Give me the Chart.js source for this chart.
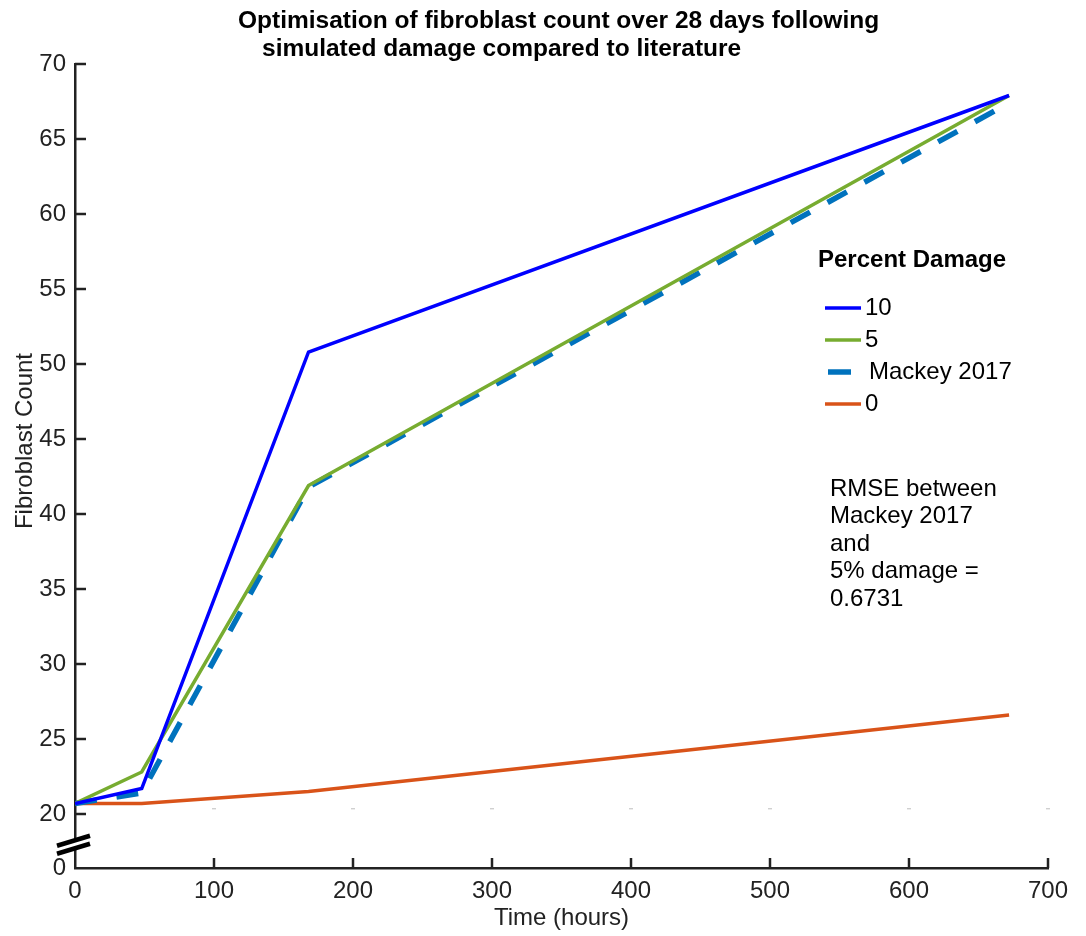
<!DOCTYPE html>
<html>
<head>
<meta charset="utf-8">
<script src="https://cdn.jsdelivr.net/npm/chart.js@4"></script>
<style>
  html, body { margin: 0; padding: 0; background: #fff; }
</style>
</head>
<body>
<canvas id="myChart" width="1086" height="936"></canvas>
<script>
// data
const hours = [0, 48, 168, 672];
const damage10 = [20.7, 21.7, 50.8, 67.9];
const damage5 = [20.7, 22.8, 41.9, 67.9];
const mackey2017 = [20.7, 21.4, 41.8, 67.4];
const damage0 = [20.7, 20.7, 21.5, 26.6];

const xTicks = [0, 100, 200, 300, 400, 500, 600, 700];
const yTicks = [20, 25, 30, 35, 40, 45, 50, 55, 60, 65, 70];
const yZero = 16.4; // bottom of the broken axis, labelled 0

const titleLines = ['Optimisation of fibroblast count over 28 days following', 'simulated damage compared to literature'];
const legendTitle = 'Percent Damage';
const rmseText = ['RMSE between', 'Mackey 2017', 'and', '5% damage =', '0.6731'];

const FONT = "'Liberation Sans', Arial, Helvetica, sans-serif";
const AXIS = '#222222';

function pts(ys) {
  return hours.map((h, i) => ({ x: h, y: ys[i] }));
}

const decorations = {
  id: 'decorations',
  afterDraw(chart) {
    const ctx = chart.ctx;
    const xs = chart.scales.x, ys = chart.scales.y;
    const area = chart.chartArea;
    ctx.save();

    // faint grey marks just above 20
    ctx.strokeStyle = '#c8c8c8';
    ctx.lineWidth = 1.2;
    xTicks.slice(1).forEach(t => {
      const px = xs.getPixelForValue(t);
      const py = ys.getPixelForValue(20.35);
      ctx.beginPath(); ctx.moveTo(px - 2, py); ctx.lineTo(px + 2, py); ctx.stroke();
    });

    // inward ticks
    ctx.strokeStyle = AXIS;
    ctx.lineWidth = 2.5;
    xTicks.slice(1).forEach(t => {
      const px = xs.getPixelForValue(t);
      ctx.beginPath(); ctx.moveTo(px, area.bottom); ctx.lineTo(px, area.bottom - 10); ctx.stroke();
    });
    yTicks.forEach(t => {
      const py = ys.getPixelForValue(t);
      ctx.beginPath(); ctx.moveTo(area.left, py); ctx.lineTo(area.left + 11, py); ctx.stroke();
    });

    // axis break
    const by = ys.getPixelForValue(yZero + 1.55);
    ctx.fillStyle = '#fff';
    ctx.beginPath();
    ctx.moveTo(area.left - 5, by - 2);
    ctx.lineTo(area.left + 5, by - 5);
    ctx.lineTo(area.left + 5, by + 3);
    ctx.lineTo(area.left - 5, by + 6);
    ctx.closePath(); ctx.fill();
    ctx.strokeStyle = '#000';
    ctx.lineWidth = 4.5;
    [-4, 4].forEach(d => {
      ctx.beginPath();
      ctx.moveTo(area.left - 18, by + d + 5);
      ctx.lineTo(area.left + 15, by + d - 5);
      ctx.stroke();
    });

    // title
    ctx.fillStyle = '#000';
    ctx.font = 'bold 24.5px ' + FONT;
    ctx.textBaseline = 'middle';
    ctx.textAlign = 'left';
    ctx.fillText(titleLines[0], 238, 21);
    ctx.fillText(titleLines[1], 262, 49);

    // axis titles
    ctx.fillStyle = AXIS;
    ctx.font = '24px ' + FONT;
    ctx.textAlign = 'center';
    ctx.fillText('Time (hours)', (area.left + area.right) / 2, 918);
    ctx.save();
    ctx.translate(25, 441);
    ctx.rotate(-Math.PI / 2);
    ctx.fillText('Fibroblast Count', 0, 0);
    ctx.restore();

    // legend
    ctx.textAlign = 'left';
    ctx.fillStyle = '#000';
    ctx.font = 'bold 24px ' + FONT;
    ctx.fillText(legendTitle, 818, 260);
    ctx.font = '24px ' + FONT;
    chart.data.datasets.forEach((ds, i) => {
      const y = 308 + i * 32;
      ctx.strokeStyle = ds.borderColor;
      ctx.lineWidth = ds.borderWidth;
      if (ds.borderDash) {
        ctx.beginPath(); ctx.moveTo(828, y); ctx.lineTo(851, y); ctx.stroke();
        ctx.fillText(ds.label, 869, y);
      } else {
        ctx.beginPath(); ctx.moveTo(825, y); ctx.lineTo(861, y); ctx.stroke();
        ctx.fillText(ds.label, 865, y);
      }
    });

    // RMSE note
    ctx.fillStyle = '#000';
    ctx.font = '24px ' + FONT;
    rmseText.forEach((line, i) => ctx.fillText(line, 830, 489 + i * 27.5));

    ctx.restore();
  }
};

const ctx = document.getElementById('myChart');
const myChart = new Chart(ctx, {
  type: 'line',
  data: {
    datasets: [
      { label: '10', data: pts(damage10), borderColor: '#0000FF', borderWidth: 3.5 },
      { label: '5', data: pts(damage5), borderColor: '#77AC30', borderWidth: 3.5 },
      { label: 'Mackey 2017', data: pts(mackey2017), borderColor: '#0072BD', borderWidth: 5.5, borderDash: [22, 20] },
      { label: '0', data: pts(damage0), borderColor: '#D95319', borderWidth: 3.5 }
    ]
  },
  options: {
    responsive: false,
    animation: false,
    elements: { point: { radius: 0 }, line: { tension: 0, borderCapStyle: 'butt' } },
    layout: { padding: { top: 64, right: 38, left: 0, bottom: 0 } },
    plugins: { legend: { display: false }, tooltip: { enabled: false }, title: { display: false } },
    scales: {
      x: {
        type: 'linear',
        min: 0, max: 700,
        afterBuildTicks: s => { s.ticks = xTicks.map(v => ({ value: v })); },
        afterFit: s => { s.height = 68; },
        grid: { drawOnChartArea: false, drawTicks: false },
        border: { color: AXIS, width: 2.5 },
        ticks: { color: AXIS, font: { family: FONT, size: 24 }, padding: 9, maxRotation: 0 }
      },
      y: {
        type: 'linear',
        min: yZero, max: 70,
        afterBuildTicks: s => { s.ticks = [yZero].concat(yTicks).map(v => ({ value: v })); },
        afterFit: s => { s.width = 75; },
        grid: { drawOnChartArea: false, drawTicks: false },
        border: { color: AXIS, width: 2.5 },
        ticks: {
          color: AXIS, font: { family: FONT, size: 24 }, padding: 9,
          callback: v => (v === yZero ? '0' : v)
        }
      }
    }
  },
  plugins: [decorations]
});
</script>
</body>
</html>
